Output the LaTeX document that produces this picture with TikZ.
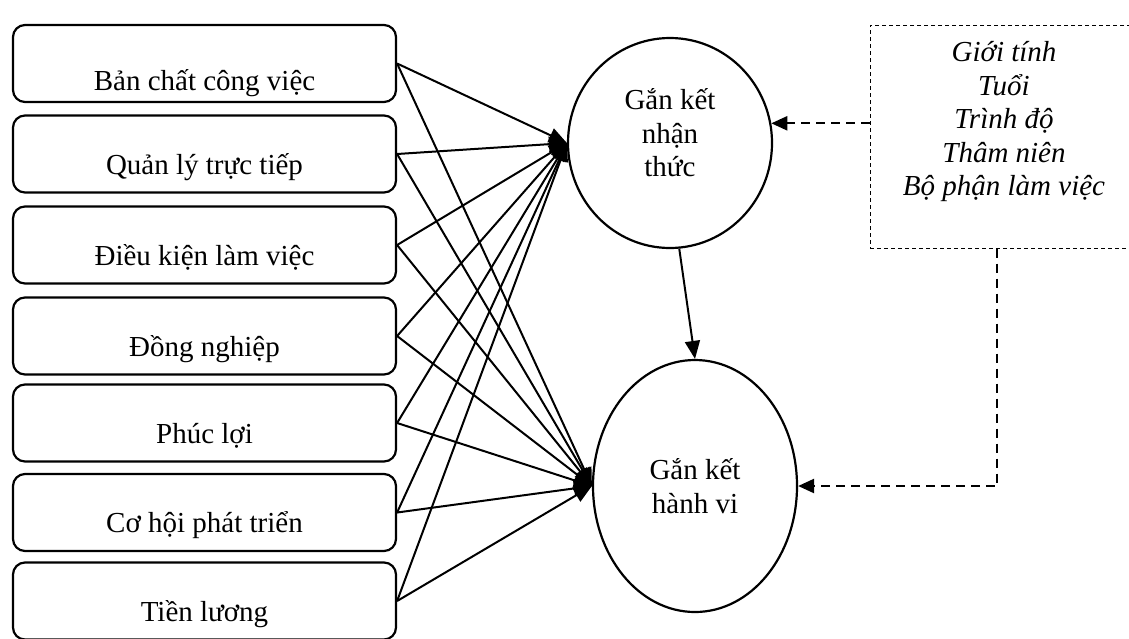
\documentclass[tikz,border=0pt]{standalone}
\usepackage{fontspec}
\setmainfont{Liberation Serif}
\usetikzlibrary{shapes.geometric,arrows.meta}

\newcommand{\diagfont}{\fontsize{29}{33.5}\selectfont}

\tikzset{
  factor/.style={draw, rounded corners=12pt, line width=2.2pt,
    minimum width=383pt, minimum height=77pt, inner sep=0pt,
    text height=40pt, text depth=0pt},
  construct/.style={draw, ellipse, line width=2.2pt, minimum width=204pt,
    inner sep=0pt, align=center},
  control/.style={draw, line width=1pt, dash pattern=on 4pt off 3pt,
    minimum width=320pt, minimum height=223pt},
  link/.style={line width=2pt, -{Triangle[length=18pt,width=15pt]}},
  ctrl/.style={line width=2.3pt, dash pattern=on 9pt off 6pt,
    -{Triangle[length=16pt,width=14pt]}},
}

\begin{document}
\begin{tikzpicture}[x=1pt,y=-1pt,font=\diagfont]
  \clip (0,0) rectangle (1129,638);

  % factors
  \node[factor, text height=54pt] (f1) at (204.5,63.5) {Bản chất công việc};
  \node[factor] (f2) at (204.5,154) {Quản lý trực tiếp};
  \node[factor] (f3) at (204.5,245) {Điều kiện làm việc};
  \node[factor] (f4) at (204.5,336) {Đồng nghiệp};
  \node[factor] (f5) at (204.5,423) {Phúc lợi};
  \node[factor] (f6) at (204.5,512.5) {Cơ hội phát triển};
  \node[factor] (f7) at (204.5,601) {Tiền lương};

  % engagement
  \node[construct, minimum height=210pt] (e1) at (670,143) {};
  \node[align=center] (e1txt) at (670,133) {Gắn kết\\nhận\\thức};
  \node[construct, minimum height=252pt] (e2) at (695,486) {Gắn kết\\hành vi};

  % control variables (right side runs off the page)
  \node[control] (ctx) at (1030,136.5) {};
  \node[align=center, font=\diagfont\itshape] (ctxtxt) at (1004,122)
    {Giới tính\\Tuổi\\Trình độ\\Thâm niên\\Bộ phận làm việc};
  \coordinate (drop) at (997,0);

  \foreach \i in {1,...,7} {
    \draw[link] (f\i.east) -- (e1.west);
    \draw[link] (f\i.east) -- (e2.west);
  }
  \draw[link] (e1.-85) -- (e2.north);

  \draw[ctrl] (ctx.west |- e1.11) -- (e1.11);
  \draw[ctrl] (drop |- ctx.south) |- (e2.east);
\end{tikzpicture}
\end{document}
